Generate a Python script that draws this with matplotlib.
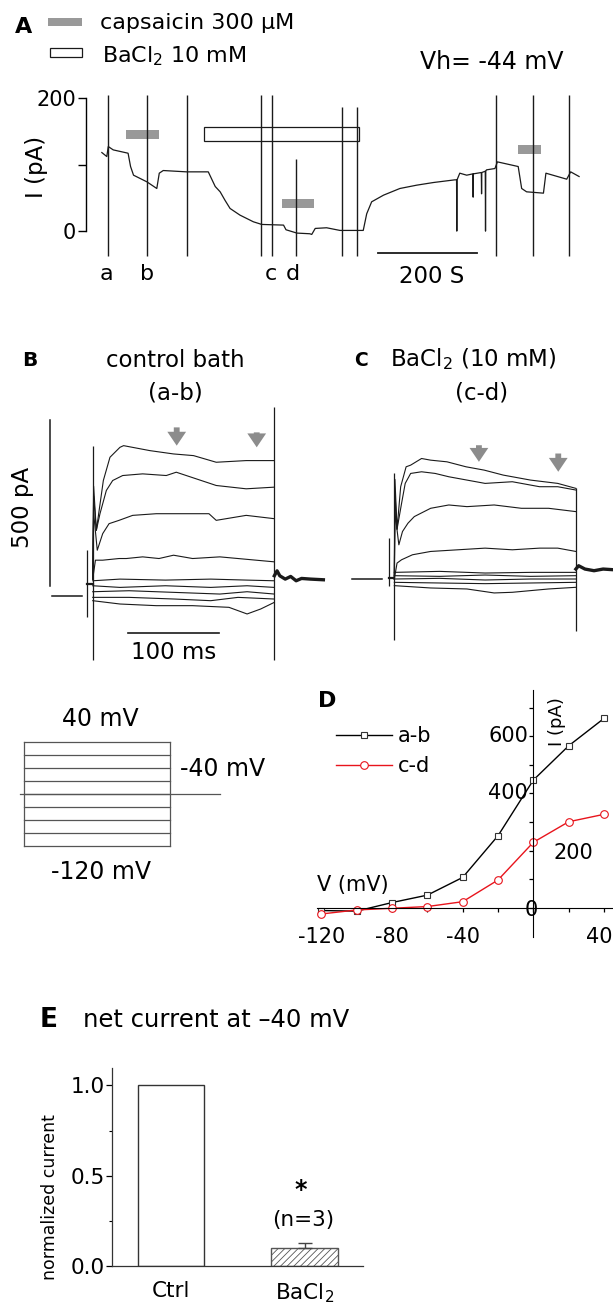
import matplotlib
matplotlib.use('Agg')
import matplotlib.pyplot as plt
from matplotlib.patches import Rectangle

plt.rcParams['font.family'] = ['DejaVu Sans']
plt.rcParams['hatch.linewidth'] = 0.6

# ---------------- data ----------------
# Panel A: holding current trace (time s, current pA)
A_T = [32, 42, 45, 55, 85, 90, 96, 123, 143, 148, 156, 203, 247, 261, 271, 281, 291, 311, 338, 355,
       399, 404, 426, 452, 456, 463, 486, 513, 560, 567, 577, 601, 634, 668, 702, 745, 748.5, 749,
       749.5, 755, 769, 781.5, 782, 782.5, 798.5, 799, 799.5, 806.5, 807, 807.5, 809, 826, 831,
       873, 880, 890, 924, 929, 971, 979, 996]
A_I = [118, 112, 127, 122, 117, 97, 84, 74, 64, 87, 91, 89, 89, 67, 59, 46, 34, 24, 14, 10,
       9, 2, -3, -4, -5, 4, 5, 1, 1, 26, 44, 54, 64, 69, 73, 77, 77, 0,
       77, 87, 84, 86, 51, 86, 88, 56, 88, 90, 0, 90, 92, 94, 104,
       97, 64, 59, 57, 87, 78, 89, 82]
A_ART_T = [45, 122.6, 203.4, 353.5, 375, 423.6, 516.5, 546.8, 827.6, 903.5, 976.3]
A_ART_TOP = [205, 205, 205, 205, 205, 108, 187, 187, 205, 205, 205]
A_ART_BOTTOM = -37
CAPS_T0 = [81, 396, 873]
CAPS_T1 = [147, 461, 919]
CAPS_I = [145, 41, 123]
BA_T = [238, 551]
BA_I = [135, 157]
EV_LABELS = ['a', 'b', 'c', 'd']
EV_T = [42, 123, 374, 418]

# Panel B: control bath traces (ms, pA)
B_MS = [
    [0, 1, 4, 11.7, 19, 30, 34, 63, 89, 111, 136, 169, 200],
    [0, 1, 4, 8, 15, 22, 33, 55, 81, 92, 114, 136, 169, 200],
    [0, 1, 5, 11, 18, 29, 44, 70, 95, 128, 136, 169, 200],
    [0, 3, 11, 29, 37, 55, 73, 89, 110, 140, 200],
    [0, 30, 80, 130, 170, 200],
    [0, 30, 80, 130, 170, 200],
    [0, 40, 90, 140, 170, 200],
    [0, 40, 90, 130, 160, 200],
    [0, 30, 70, 110, 150, 170, 185, 200],
]
B_PA = [
    [50, 330, 197, 347, 417, 447, 452, 437, 427, 422, 402, 407, 407],
    [50, 300, 197, 247, 317, 347, 362, 367, 362, 372, 352, 332, 322, 327],
    [50, 250, 137, 187, 217, 227, 242, 247, 247, 247, 227, 242, 232],
    [50, 107, 107, 112, 112, 117, 112, 122, 112, 117, 102],
    [45, 50, 47, 50, 47, 45],
    [30, 25, 30, 25, 30, 25],
    [12, 15, 10, 5, 12, 5],
    [-5, -5, -10, -15, -5, -10],
    [-15, -25, -30, -30, -35, -55, -40, -20],
]
B_PRE = [[-6, 0], [35, 35]]
B_TAIL_MS = [200, 203, 206, 212, 218, 224, 230, 240, 254]
B_TAIL_PA = [60, 75, 60, 50, 58, 45, 52, 50, 48]
B_ART_MS = [-5.9, 0, 200]
B_ART_LO = [-63, -193, -193]
B_ART_HI = [137, 452, 569]

# Panel C: BaCl2 traces (ms, pA)
C_MS = [
    [0, 0.7, 3, 7, 13, 18, 30, 40, 58, 79, 99, 120, 150, 180, 200],
    [0, 0.7, 3, 8, 12, 18, 30, 45, 60, 80, 100, 130, 160, 180, 200],
    [0, 0.7, 5, 9, 15, 22, 40, 60, 80, 110, 140, 170, 200],
    [0, 3, 8, 20, 40, 70, 100, 130, 160, 180, 200],
    [0, 50, 100, 150, 200],
    [0, 50, 100, 150, 200],
    [0, 50, 100, 150, 200],
    [0, 50, 100, 150, 200],
    [0, 40, 80, 110, 130, 170, 200],
]
C_PA = [
    [0, 300, 150, 278, 338, 343, 363, 358, 353, 338, 328, 313, 298, 288, 273],
    [0, 260, 150, 228, 288, 318, 323, 318, 308, 298, 288, 293, 278, 278, 268],
    [0, 200, 103, 143, 168, 188, 213, 223, 218, 223, 213, 213, 203],
    [0, 48, 58, 73, 83, 88, 93, 88, 93, 93, 83],
    [20, 23, 18, 20, 20],
    [10, 8, 12, 8, 10],
    [0, 2, -3, 0, 0],
    [-10, -12, -14, -12, -10],
    [-20, -27, -30, -42, -40, -30, -25],
]
C_PRE = [[-6, 0], [2, 2]]
C_TAIL_MS = [200, 203, 210, 220, 230, 241]
C_TAIL_PA = [30, 40, 30, 25, 30, 28]
C_ART_MS = [-5.5, 0, 200]
C_ART_LO = [-22, -183, -157]
C_ART_HI = [123, 320, 275]

# Voltage protocol (mV)
PROT_V = [40, 20, 0, -20, -40, -60, -80, -100, -120]

# Panel D: I-V relation
D_V = [-120, -100, -80, -60, -40, -20, 0, 20, 40]
D_AB = [-10, -12, 18, 44, 106, 252, 447, 567, 663]
D_CD = [-22, -8, -2, 4, 21, 97, 229, 301, 327]

# Panel E: normalized net current
E_CATS = ['Ctrl', 'BaCl$_2$']
E_VALS = [1.0, 0.10]
E_ERR = [0.0, 0.03]

# ---------------- figure ----------------
W, H = 613, 1307
fig = plt.figure(figsize=(W / 100, H / 100), dpi=100)


def px_axes(x0, y0, x1, y1):
    return fig.add_axes([x0 / W, 1 - y1 / H, (x1 - x0) / W, (y1 - y0) / H])


TR = '#1a1a1a'
GRAY = '#8c8c8c'
ARROW = 'simple,head_length=1.0,head_width=1.35,tail_width=0.42'

# ---- Panel A ----
axA = px_axes(86, 78, 613, 291)
axA.set_xlim(0, 1064.5)
axA.set_ylim(-90, 230)
axA.plot(A_T, A_I, color=TR, lw=0.9)
axA.vlines(A_ART_T, A_ART_BOTTOM, A_ART_TOP, color=TR, lw=1.0)
for t0, t1, ic in zip(CAPS_T0, CAPS_T1, CAPS_I):
    axA.add_patch(Rectangle((t0, ic - 6.5), t1 - t0, 13, fc='#999999', ec='none'))
axA.add_patch(Rectangle((BA_T[0], BA_I[0]), BA_T[1] - BA_T[0], BA_I[1] - BA_I[0],
                        fc='white', ec=TR, lw=0.9))
for lab, t in zip(EV_LABELS, EV_T):
    axA.text(t, -73.7, lab, ha='center', va='baseline', fontsize=16)
axA.plot([590, 790], [-33, -33], color=TR, lw=1.3)
axA.text(699, -78.7, '200 S', ha='center', va='baseline', fontsize=16.5)
for s in ['top', 'right', 'bottom']:
    axA.spines[s].set_visible(False)
axA.spines['left'].set_bounds(0, 200)
axA.spines['left'].set_linewidth(1.0)
axA.set_xticks([])
axA.set_yticks([0, 100, 200])
axA.set_yticklabels(['0', '', '200'])
axA.tick_params(axis='y', direction='out', length=6, width=1.0, labelsize=15, pad=1)
axA.patch.set_alpha(0)

# ---- Panel B ----
axB = px_axes(0, 400, 330, 680)
axB.set_xlim(-102.1, 261.3)
axB.set_ylim(-253.9, 589.5)
axB.axis('off')
for ms, pa in zip(B_MS, B_PA):
    axB.plot(ms, pa, color=TR, lw=0.8)
axB.plot(B_PRE[0], B_PRE[1], color=TR, lw=1.6)
axB.plot(B_TAIL_MS, B_TAIL_PA, color=TR, lw=2.4)
axB.vlines(B_ART_MS, B_ART_LO, B_ART_HI, color=TR, lw=0.9)
axB.plot([-47, -47], [29, 529], color=TR, lw=1.1)
axB.plot([-44.7, -11.8], [0, 0], color=TR, lw=1.1)
axB.plot([38.9, 138.9], [-111, -111], color=TR, lw=1.2)
axB.text(89, -170, '100 ms', ha='center', va='center', fontsize=16.5)
for x, top, tip in zip([92.5, 180.6], [507, 492], [452, 447]):
    axB.annotate('', xy=(x, tip), xytext=(x, top),
                 arrowprops=dict(arrowstyle=ARROW, fc=GRAY, ec='none', shrinkA=0, shrinkB=0,
                                 mutation_scale=10))

# ---- Panel C ----
axC = px_axes(300, 400, 613, 680)
axC.set_xlim(-103.9, 240.9)
axC.set_ylim(-304.2, 539.2)
axC.axis('off')
for ms, pa in zip(C_MS, C_PA):
    axC.plot(ms, pa, color=TR, lw=0.8)
axC.plot(C_PRE[0], C_PRE[1], color=TR, lw=1.6)
axC.plot(C_TAIL_MS, C_TAIL_PA, color=TR, lw=2.4)
axC.vlines(C_ART_MS, C_ART_LO, C_ART_HI, color=TR, lw=0.9)
axC.plot([-46.6, -13.5], [0, 0], color=TR, lw=1.1)
for x, top, tip in zip([93.2, 180.6], [403, 378], [353, 323]):
    axC.annotate('', xy=(x, tip), xytext=(x, top),
                 arrowprops=dict(arrowstyle=ARROW, fc=GRAY, ec='none', shrinkA=0, shrinkB=0,
                                 mutation_scale=10))

# ---- Voltage protocol ----
axP = px_axes(0, 720, 240, 870)
axP.set_xlim(-33.2, 295.8)
axP.set_ylim(-157.4, 73.4)
axP.axis('off')
PC = '#555555'
for v in PROT_V:
    axP.plot([0, 200], [v, v], color=PC, lw=0.9)
axP.plot([0, 0], [PROT_V[-1], PROT_V[0]], color=PC, lw=0.9)
axP.plot([200, 200], [PROT_V[-1], PROT_V[0]], color=PC, lw=0.9)
axP.plot([-5.3, 268], [-40, -40], color=PC, lw=0.9)

# ---- Panel D ----
axD = px_axes(300, 685, 613, 950)
axD.set_xlim(-132.1, 45.1)
axD.set_ylim(-148.2, 780.0)
axD.patch.set_alpha(0)
axD.plot(D_V, D_AB, color='black', lw=1.0, marker='s', ms=5, mfc='white', mec='#333333',
         mew=0.8, label='a-b')
axD.plot(D_V, D_CD, color='#e8141c', lw=1.0, marker='o', ms=5.5, mfc='white', mec='#e8141c',
         mew=0.8, label='c-d')
for s in ['top', 'right']:
    axD.spines[s].set_visible(False)
axD.spines['left'].set_position(('data', 0))
axD.spines['bottom'].set_position(('data', 0))
axD.spines['left'].set_bounds(-101, 762)
axD.spines['bottom'].set_bounds(-122.6, 45.1)
axD.set_xticks(D_V)
axD.set_xticklabels([])
axD.set_yticks(range(0, 800, 100))
axD.set_yticklabels([])
axD.tick_params(axis='both', direction='out', length=3, width=0.9)
for v in [-120, -80, -40]:
    axD.text(v, -101.6, str(v), ha='center', va='center', fontsize=15)
axD.text(44.6, -101.6, '40', ha='right', va='center', fontsize=15)
axD.text(-3, 600, '600', ha='right', va='center', fontsize=15)
axD.text(-3, 402, '400', ha='right', va='center', fontsize=15)
axD.text(22.5, 192, '200', ha='center', va='center', fontsize=15)
axD.text(-1.3, -8, '0', ha='center', va='center', fontsize=15)
axD.legend(loc='upper left', bbox_to_anchor=(336 / W, 1 - 726 / H), bbox_transform=fig.transFigure,
           frameon=False, fontsize=15, handlelength=2.7, handletextpad=0.25, labelspacing=0.5,
           borderpad=0, borderaxespad=0)

# ---- Panel E ----
axE = px_axes(112, 1068, 363, 1266)
axE.set_xlim(-0.442, 1.438)
axE.set_ylim(0, 1.096)
axE.bar([0], [E_VALS[0]], width=0.5, color='white', edgecolor='#333333', lw=1.0)
axE.bar([1], [E_VALS[1]], width=0.5, color='white', edgecolor='#555555', lw=1.0, hatch='/////')
axE.errorbar([1], [E_VALS[1]], yerr=[[0], [E_ERR[1]]], fmt='none', ecolor='#444444',
             capsize=5, elinewidth=1, capthick=1)
for s in ['top', 'right']:
    axE.spines[s].set_visible(False)
for s in ['left', 'bottom']:
    axE.spines[s].set_color('#333333')
    axE.spines[s].set_linewidth(0.9)
axE.set_xticks([0, 1])
axE.set_xticklabels(E_CATS)
axE.set_yticks([0.0, 0.5, 1.0])
axE.set_yticklabels(['0.0', '0.5', '1.0'])
axE.set_yticks([0.25, 0.75], minor=True)
axE.tick_params(axis='y', which='major', direction='out', length=4, width=0.9, labelsize=15.5, pad=1)
axE.tick_params(axis='y', which='minor', direction='out', length=2, width=0.8)
axE.tick_params(axis='x', length=0, pad=11, labelsize=15.5)
axE.text(0.97, 0.42, '*', ha='center', va='center', fontsize=17, fontweight='bold')
axE.text(0.99, 0.254, '(n=3)', ha='center', va='center', fontsize=15.5)

# ---- overlay for labels (pixel coordinates) ----
ov = fig.add_axes([0, 0, 1, 1])
ov.set_xlim(0, W)
ov.set_ylim(H, 0)
ov.axis('off')
ov.patch.set_alpha(0)

ov.text(24, 27, 'A', ha='center', va='center', fontsize=16, fontweight='bold')
ov.add_patch(Rectangle((48, 18), 34, 8, fc='#999999', ec='none'))
ov.text(100, 29, 'capsaicin 300 \u03bcM', ha='left', va='baseline', fontsize=16)
ov.add_patch(Rectangle((50, 48), 32, 9, fc='white', ec=TR, lw=0.9))
ov.text(102, 62, 'BaCl$_2$ 10 mM', ha='left', va='baseline', fontsize=16)
ov.text(420, 69, 'Vh= -44 mV', ha='left', va='baseline', fontsize=17)
ov.text(37, 167, 'I (pA)', ha='center', va='center', rotation=90, fontsize=16.5)

ov.text(30, 361, 'B', ha='center', va='center', fontsize=14.5, fontweight='bold')
ov.text(175, 366.7, 'control bath', ha='center', va='baseline', fontsize=16.5)
ov.text(175, 393, '(a-b)', ha='center', va='center', fontsize=16.5)
ov.text(22, 507, '500 pA', ha='center', va='center', rotation=90, fontsize=16.5)
ov.text(361, 361, 'C', ha='center', va='center', fontsize=13.5, fontweight='bold')
ov.text(390, 366, 'BaCl$_2$ (10 mM)', ha='left', va='baseline', fontsize=16.5)
ov.text(482, 393, '(c-d)', ha='center', va='center', fontsize=16.5)

ov.text(100, 719, '40 mV', ha='center', va='center', fontsize=17)
ov.text(180, 769, '-40 mV', ha='left', va='center', fontsize=17)
ov.text(101, 872, '-120 mV', ha='center', va='center', fontsize=17)

ov.text(327, 701, 'D', ha='center', va='center', fontsize=16, fontweight='bold')
ov.text(317, 885, 'V (mV)', ha='left', va='center', fontsize=15)
ov.text(557, 722, 'I (pA)', ha='center', va='center', rotation=90, fontsize=13)

ov.text(49, 1020, 'E', ha='center', va='center', fontsize=19, fontweight='bold')
ov.text(83, 1020, 'net current at \u201340 mV', ha='left', va='center', fontsize=17.5)
ov.text(50, 1197, 'normalized current', ha='center', va='center', rotation=90, fontsize=12.5)

fig.savefig('out.png', dpi=100)
